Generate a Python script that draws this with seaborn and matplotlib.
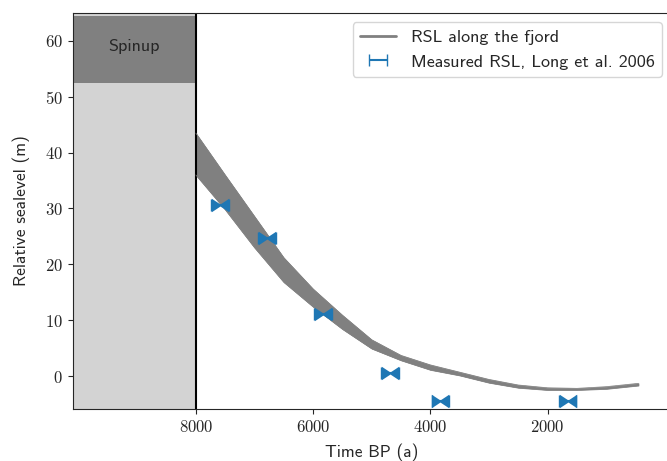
import numpy as np
import pandas as pd
import matplotlib.pyplot as plt
from matplotlib.path import Path
import seaborn as sns

# RSL band along the fjord (upper / lower envelope)
time_bp = [8000, 7500, 7000, 6500, 6000, 5500, 5000, 4500, 4000, 3500, 3000, 2500, 2000, 1500, 1000, 450]
rsl_upper = [43.5, 36.0, 28.6, 21.2, 15.6, 10.9, 6.5, 3.7, 2.0, 0.7, -0.6, -1.6, -2.1, -2.2, -1.9, -1.3]
rsl_lower = [36.0, 29.8, 23.0, 16.8, 12.4, 8.4, 4.9, 2.8, 1.1, 0.1, -1.2, -2.1, -2.5, -2.5, -2.3, -1.7]

# measured RSL, Long et al. 2006
meas_time = [7590, 6786, 5829, 4684, 3829, 1658]
meas_rsl = [30.6, 24.7, 11.1, 0.5, -4.5, -4.5]
meas_err = [150, 150, 150, 150, 150, 150]

spinup_start, spinup_end = 10100, 8000
spinup_box = (52.5, 64.4)

sns.set_style('ticks')
plt.rcParams['font.family'] = ['cmss10', 'DejaVu Sans']
plt.rcParams['mathtext.fontset'] = 'cm'
plt.rcParams['axes.formatter.use_mathtext'] = True

band = pd.DataFrame({'time': time_bp, 'upper': rsl_upper, 'lower': rsl_lower})

# bow-tie marker (two inward-pointing triangles)
bowtie = Path([(-1, 0.78), (-1, -0.78), (0, -0.12), (1, -0.78), (1, 0.78), (0, 0.12), (-1, 0.78)],
              [Path.MOVETO] + [Path.LINETO] * 5 + [Path.CLOSEPOLY])

fig = plt.figure(figsize=(6.67, 4.61), dpi=100)
ax = fig.add_axes([0.109, 0.1128, 0.8966, 0.859])

ax.axvspan(spinup_end, spinup_start, color='lightgray', zorder=0, lw=0)
ax.fill_between([spinup_end, spinup_start], spinup_box[0], spinup_box[1], color='gray', lw=0, zorder=0.5)
ax.axvline(spinup_end, color='k', lw=1.5)
ax.text((spinup_start + spinup_end) / 2, 59, 'Spinup', ha='center', va='center', fontsize=13)

ax.fill_between(band['time'], band['lower'], band['upper'], color='gray', lw=0.5, edgecolor='gray')
sns.lineplot(data=band, x='time', y='upper', color='gray', lw=0.5, ax=ax)
sns.lineplot(data=band, x='time', y='lower', color='gray', lw=0.5, ax=ax)
ax.plot([], [], color='gray', lw=2, label='RSL along the fjord')

ax.errorbar(meas_time, meas_rsl, xerr=meas_err, fmt='none', ecolor='tab:blue',
            capsize=4, elinewidth=1.5, label='Measured RSL, Long et al. 2006', zorder=3)
ax.plot(meas_time, meas_rsl, ls='none', marker=bowtie, ms=12.5, color='tab:blue', mew=0, zorder=4)

ax.set_xlim(spinup_start, -100)
ax.set_ylim(-5.9, 65)
ax.set_xticks([8000, 6000, 4000, 2000])
ax.set_yticks(np.arange(0, 61, 10))
for lab in ax.get_xticklabels() + ax.get_yticklabels():
    lab.set_fontfamily('cmr10')
    lab.set_fontsize(12)
ax.set_xlabel('Time BP (a)', fontsize=12.5, labelpad=6)
ax.set_ylabel('Relative sealevel (m)', fontsize=12.5, labelpad=11)
ax.legend(loc='upper right', fontsize=13, handlelength=2.0)

fig.savefig('out.png', dpi=100)
